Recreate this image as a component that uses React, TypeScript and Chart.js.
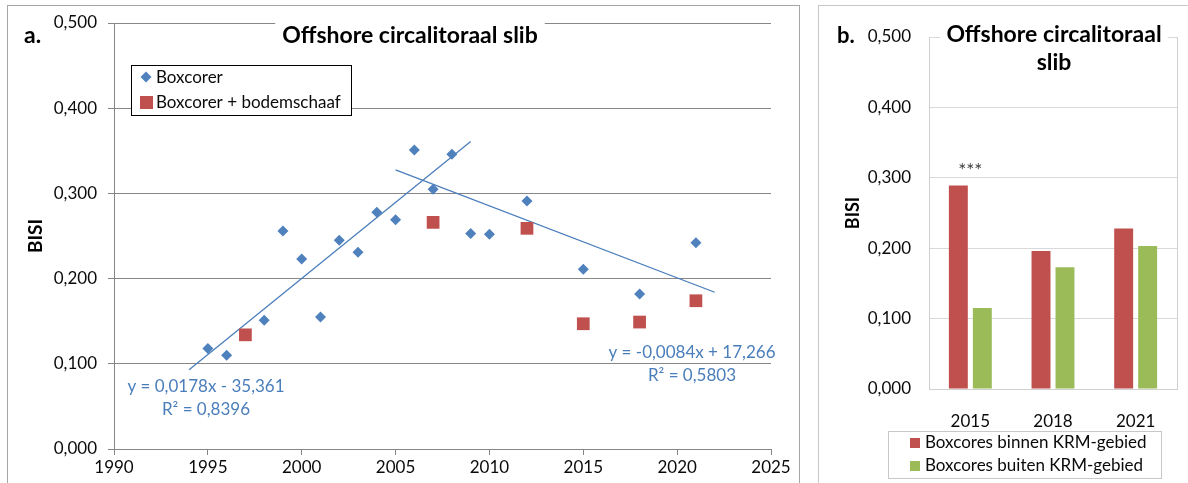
import React, { useEffect, useRef } from 'react';
import { Chart, registerables } from 'chart.js';
Chart.register(...registerables);

// ---------- Data ----------
const boxcorerYears = [1995, 1996, 1998, 1999, 2000, 2001, 2002, 2003, 2004, 2005, 2006, 2007, 2008, 2009, 2010, 2012, 2015, 2018, 2021];
const boxcorerBISI = [0.118, 0.110, 0.151, 0.256, 0.223, 0.155, 0.245, 0.231, 0.278, 0.269, 0.351, 0.305, 0.346, 0.253, 0.252, 0.291, 0.211, 0.182, 0.242];
const bodemschaafYears = [1997, 2007, 2012, 2015, 2018, 2021];
const bodemschaafBISI = [0.134, 0.266, 0.259, 0.147, 0.149, 0.174];
const trendUpYears = [1994, 2009];
const trendUpBISI = [0.093, 0.361];
const trendDownYears = [2005, 2022];
const trendDownBISI = [0.3275, 0.184];
const trendUpLabel = ['y = 0,0178x - 35,361', 'R² = 0,8396'];
const trendDownLabel = ['y = -0,0084x + 17,266', 'R² = 0,5803'];

const barCategories = ['2015', '2018', '2021'];
const binnenKRM = [0.289, 0.196, 0.228];
const buitenKRM = [0.115, 0.173, 0.203];
const significance = ['***', '', ''];

const yMin = 0;
const yMax = 0.5;
const yStep = 0.1;
const xMin = 1990;
const xMax = 2025;
const xStep = 5;

const BLUE = '#4F81BD';
const RED = '#C0504D';
const GREEN = '#9BBB59';
const EQ = '#4A7EBB';
const FONT = 'Lato, "Open Sans", sans-serif';
const TXT = '#0a0a0a';

const fmt = (v: number) => v.toFixed(3).replace('.', ',');

const toXY = (xs: number[], ys: number[]) => xs.map((x, i) => ({ x, y: ys[i] }));

function drawRotated(ctx: CanvasRenderingContext2D, text: string, x: number, y: number, font: string) {
  ctx.save();
  ctx.translate(x, y);
  ctx.rotate(-Math.PI / 2);
  ctx.font = font;
  ctx.fillStyle = '#000';
  ctx.textAlign = 'center';
  ctx.textBaseline = 'middle';
  ctx.fillText(text, 0, 0);
  ctx.restore();
}

const scatterDecor = {
  id: 'scatterDecor',
  afterDraw(chart: any) {
    const ctx: CanvasRenderingContext2D = chart.ctx;
    ctx.save();
    // title with white background
    ctx.font = `bold 23px ${FONT}`;
    const title = 'Offshore circalitoraal slib';
    const tw = ctx.measureText(title).width;
    const tx = 410;
    const ty = 36;
    ctx.fillStyle = '#fff';
    ctx.fillRect(tx - tw / 2 - 7, ty - 16, tw + 14, 32);
    ctx.fillStyle = '#000';
    ctx.textAlign = 'center';
    ctx.textBaseline = 'middle';
    ctx.fillText(title, tx, ty);
    // panel letter
    ctx.textAlign = 'left';
    ctx.fillText('a.', 24, 36);
    // y title
    drawRotated(ctx, 'BISI', 36, (chart.chartArea.top + chart.chartArea.bottom) / 2, `bold 19px ${FONT}`);

    // legend
    const lx = 131, ly = 65, lw = 220, lh = 50;
    ctx.fillStyle = '#fff';
    ctx.fillRect(lx, ly, lw, lh);
    ctx.strokeStyle = '#000';
    ctx.lineWidth = 1;
    ctx.strokeRect(lx + 0.5, ly + 0.5, lw, lh);
    ctx.font = `17px ${FONT}`;
    ctx.textAlign = 'left';
    ctx.textBaseline = 'middle';
    const ds = chart.data.datasets;
    // diamond
    ctx.fillStyle = BLUE;
    ctx.beginPath();
    ctx.moveTo(146, 77 - 5.5);
    ctx.lineTo(146 + 5.5, 77);
    ctx.lineTo(146, 77 + 5.5);
    ctx.lineTo(146 - 5.5, 77);
    ctx.closePath();
    ctx.fill();
    ctx.fillStyle = TXT;
    ctx.fillText(ds[0].label, 156, 78);
    ctx.fillStyle = RED;
    ctx.fillRect(140, 96, 13, 13);
    ctx.fillStyle = TXT;
    ctx.fillText(ds[1].label, 156, 103);

    // equations
    ctx.fillStyle = EQ;
    ctx.textAlign = 'center';
    ctx.font = `17px ${FONT}`;
    ctx.fillText(trendUpLabel[0], 206, 387);
    ctx.fillText(trendUpLabel[1], 206, 410);
    ctx.fillText(trendDownLabel[0], 692, 353);
    ctx.fillText(trendDownLabel[1], 692, 376);
    ctx.restore();
  },
};

const barDecor = {
  id: 'barDecor',
  afterDraw(chart: any) {
    const ctx: CanvasRenderingContext2D = chart.ctx;
    const area = chart.chartArea;
    ctx.save();
    // right border of plot area
    ctx.strokeStyle = '#D0D0D0';
    ctx.lineWidth = 1;
    ctx.beginPath();
    ctx.moveTo(area.right + 0.5, area.top);
    ctx.lineTo(area.right + 0.5, area.bottom);
    ctx.stroke();

    // title
    ctx.font = `bold 23px ${FONT}`;
    const cx = (area.left + area.right) / 2 + 1;
    const l1 = 'Offshore circalitoraal';
    const tw = ctx.measureText(l1).width;
    ctx.fillStyle = '#fff';
    ctx.fillRect(cx - tw / 2 - 6, 18, tw + 12, 60);
    ctx.fillStyle = '#000';
    ctx.textAlign = 'center';
    ctx.textBaseline = 'middle';
    ctx.fillText(l1, cx, 35);
    ctx.fillText('slib', cx, 63);
    ctx.textAlign = 'left';
    ctx.font = `bold 22px ${FONT}`;
    ctx.fillText('b.', 32, 36);
    drawRotated(ctx, 'BISI', 48, (area.top + area.bottom) / 2, `bold 18px ${FONT}`);

    // significance
    const xs = chart.scales.x;
    const ys = chart.scales.y;
    ctx.font = `19px ${FONT}`;
    ctx.fillStyle = '#404040';
    ctx.textAlign = 'center';
    significance.forEach((s, i) => {
      if (!s) return;
      const top = Math.max(binnenKRM[i], buitenKRM[i]);
      ctx.fillText(s, xs.getPixelForValue(i), ys.getPixelForValue(top) - 15);
    });

    // legend
    const lx = 83, ly = 431, lw = 273, lh = 47;
    ctx.fillStyle = '#fff';
    ctx.fillRect(lx, ly, lw, lh);
    ctx.strokeStyle = '#C8C8C8';
    ctx.strokeRect(lx + 0.5, ly + 0.5, lw, lh);
    ctx.font = `17px ${FONT}`;
    ctx.textAlign = 'left';
    const ds = chart.data.datasets;
    ctx.fillStyle = RED;
    ctx.fillRect(105, 438, 10, 10);
    ctx.fillStyle = TXT;
    ctx.fillText(ds[0].label, 120, 443);
    ctx.fillStyle = GREEN;
    ctx.fillRect(105, 461, 10, 10);
    ctx.fillStyle = TXT;
    ctx.fillText(ds[1].label, 120, 466);
    ctx.restore();
  },
};

function ScatterPanel() {
  const ref = useRef<HTMLCanvasElement>(null);
  useEffect(() => {
    const chart = new Chart(ref.current!, {
      type: 'scatter',
      data: {
        datasets: [
          {
            label: 'Boxcorer',
            data: toXY(boxcorerYears, boxcorerBISI),
            pointStyle: 'rectRot',
            radius: 5.5,
            backgroundColor: BLUE,
            borderColor: BLUE,
            borderWidth: 0,
          },
          {
            label: 'Boxcorer + bodemschaaf',
            data: toXY(bodemschaafYears, bodemschaafBISI),
            pointStyle: 'rect',
            radius: 9,
            backgroundColor: RED,
            borderColor: RED,
            borderWidth: 0,
          },
          {
            label: 'trend1',
            data: toXY(trendUpYears, trendUpBISI),
            showLine: true,
            radius: 0,
            borderColor: EQ,
            borderWidth: 1.3,
          },
          {
            label: 'trend2',
            data: toXY(trendDownYears, trendDownBISI),
            showLine: true,
            radius: 0,
            borderColor: EQ,
            borderWidth: 1.3,
          },
        ],
      },
      options: {
        animation: false,
        responsive: false,
        devicePixelRatio: 1,
        layout: { padding: { top: 23, right: 34, left: 0, bottom: 0 } },
        plugins: { legend: { display: false }, tooltip: { enabled: false }, title: { display: false } },
        scales: {
          x: {
            type: 'linear',
            min: xMin,
            max: xMax,
            afterFit: (s: any) => { s.height = 34; },
            ticks: { stepSize: xStep, color: TXT, font: { family: FONT, size: 17 }, padding: 2, callback: (v: any) => String(v) },
            grid: { drawOnChartArea: false, drawTicks: true, tickLength: 6, color: '#878787' },
            border: { color: '#878787' },
          },
          y: {
            min: yMin,
            max: yMax,
            afterFit: (s: any) => { s.width = 114; },
            ticks: { stepSize: yStep, color: TXT, font: { family: FONT, size: 17 }, padding: 11, callback: (v: any) => fmt(Number(v)) },
            grid: { color: '#878787', tickLength: 6 },
            border: { color: '#878787' },
          },
        },
      },
      plugins: [scatterDecor],
    } as any);
    return () => chart.destroy();
  }, []);
  return <canvas ref={ref} width={805} height={483} style={{ position: 'absolute', left: 0, top: 0, width: 805, height: 483 }} />;
}

function BarPanel() {
  const ref = useRef<HTMLCanvasElement>(null);
  useEffect(() => {
    const chart = new Chart(ref.current!, {
      type: 'bar',
      data: {
        labels: barCategories,
        datasets: [
          { label: 'Boxcores binnen KRM-gebied', data: binnenKRM, backgroundColor: RED, categoryPercentage: 0.58, barPercentage: 0.79 },
          { label: 'Boxcores buiten KRM-gebied', data: buitenKRM, backgroundColor: GREEN, categoryPercentage: 0.58, barPercentage: 0.79 },
        ],
      },
      options: {
        animation: false,
        responsive: false,
        devicePixelRatio: 1,
        layout: { padding: { top: 37, right: 11, left: 0, bottom: 0 } },
        plugins: { legend: { display: false }, tooltip: { enabled: false }, title: { display: false } },
        scales: {
          x: {
            afterFit: (s: any) => { s.height = 94; },
            ticks: { color: TXT, font: { family: FONT, size: 17 }, padding: 14 },
            grid: { display: false },
            border: { color: '#D0D0D0' },
          },
          y: {
            min: yMin,
            max: yMax,
            afterFit: (s: any) => { s.width = 124; },
            ticks: { stepSize: yStep, color: TXT, font: { family: FONT, size: 17 }, padding: 18, callback: (v: any) => fmt(Number(v)) },
            grid: { color: '#D9D9D9', drawTicks: false },
            border: { color: '#D0D0D0' },
          },
        },
      },
      plugins: [barDecor],
    } as any);
    return () => chart.destroy();
  }, []);
  return <canvas ref={ref} width={383} height={483} style={{ position: 'absolute', left: 805, top: 0, width: 383, height: 483 }} />;
}

export default function App() {
  return (
    <div style={{ position: 'fixed', left: 0, top: 0, width: 1188, height: 483, background: '#fff', overflow: 'hidden' }}>
      <div style={{ position: 'absolute', left: 7, top: 5, width: 793, height: 500, border: '1px solid #A6A6A6', boxSizing: 'border-box' }} />
      <div style={{ position: 'absolute', left: 818, top: 5, width: 400, height: 500, border: '1px solid #C8C8C8', boxSizing: 'border-box' }} />
      <ScatterPanel />
      <BarPanel />
    </div>
  );
}
